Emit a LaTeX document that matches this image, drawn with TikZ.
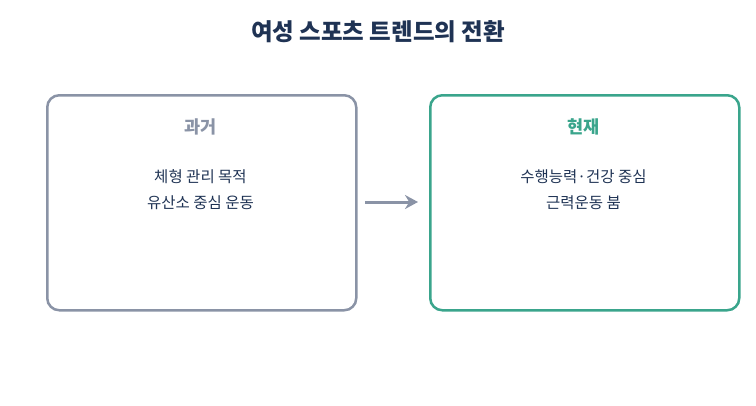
\documentclass[tikz,border=0pt]{standalone}
\usepackage{fontspec}
\setmainfont{Noto Sans CJK KR}
\usetikzlibrary{positioning,arrows.meta}
\definecolor{navy}{HTML}{1F3354}
\definecolor{pastgray}{HTML}{8A93A6}
\definecolor{nowteal}{HTML}{3AA58C}
\begin{document}
\begin{tikzpicture}[x=1pt,y=-1pt,
    panel/.style={draw, rounded corners=12pt, line width=2.5pt, minimum width=309pt, minimum height=215pt, anchor=north west},
    head/.style={font=\bfseries\fontsize{17.5}{20}\selectfont},
    body/.style={font=\fontsize{15.5}{26}\selectfont, text=navy, align=center},
    arrow/.style={-{Stealth[length=13pt,width=14pt]}, line width=3pt, draw=pastgray}
]
\useasboundingbox (0,0) rectangle (756,405);

% Title
\node[font=\bfseries\fontsize{23.5}{28}\selectfont, text=navy] (title) at (378,32) {여성 스포츠 트렌드의 전환};

% Panels
\node[panel, draw=pastgray] (past) at (46,94) {};
\node[panel, draw=nowteal] (now) at (429,94) {};

\node[head, text=pastgray] (pasthead) at (200.5,127) {과거};
\node[body] (pastbody) at (200.5,190) {체형 관리 목적\\유산소 중심 운동};

\node[head, text=nowteal] (nowhead) at (583.5,127) {현재};
\node[body] (nowbody) at (583.5,190) {수행능력·건강 중심\\근력운동 붐};

% Arrow
\coordinate (a1) at (365,202);
\coordinate (a2) at (418,202);
\draw[arrow] (a1) -- (a2);
\end{tikzpicture}
\end{document}
